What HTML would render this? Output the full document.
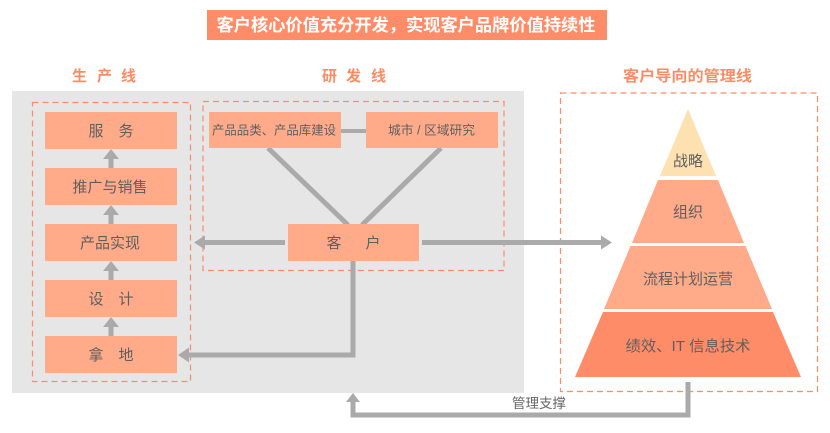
<!DOCTYPE html>
<html><head><meta charset="utf-8"><style>
html,body{margin:0;padding:0;background:#fff;}
svg{display:block;}
text{font-family:"Liberation Sans","Noto Sans CJK SC","WenQuanYi Zen Hei",sans-serif;}
</style></head><body>
<svg width="830" height="433" viewBox="0 0 830 433" xmlns="http://www.w3.org/2000/svg">
<!-- title -->
<rect x="207" y="10" width="400" height="30" fill="#ff8c69"/>
<text x="406" y="31" font-size="17" font-weight="bold" fill="#fff" text-anchor="middle" textLength="379" lengthAdjust="spacingAndGlyphs">客户核心价值充分开发，实现客户品牌价值持续性</text>

<!-- column labels -->
<g fill="#f98d66" font-size="15" font-weight="bold">
<text x="72" y="81">生</text><text x="97" y="81">产</text><text x="121" y="81">线</text>
<text x="322" y="81">研</text><text x="346" y="81">发</text><text x="371" y="81">线</text>
<text x="623" y="81" textLength="129" lengthAdjust="spacingAndGlyphs">客户导向的管理线</text>
</g>

<!-- gray area -->
<rect x="12" y="91" width="512" height="302" fill="#e6e6e6"/>

<!-- dashed boxes -->
<g fill="none" stroke="#ff8c69" stroke-width="1.2" stroke-dasharray="6 4">
<rect x="32.5" y="102.5" width="158" height="279"/>
<rect x="203" y="101.5" width="301" height="169"/>
<rect x="560.5" y="93" width="257" height="298.5"/>
</g>

<!-- connectors -->
<g stroke="#aaaaaa" stroke-width="5" fill="none">
<line x1="268" y1="148" x2="348" y2="225"/>
<line x1="441" y1="148" x2="362" y2="225"/>
<line x1="341" y1="131" x2="366" y2="131" stroke-width="4"/>
<line x1="285" y1="242.5" x2="203" y2="242.5"/>
<line x1="422" y1="242.5" x2="603" y2="242.5"/>
<polyline points="353,261 353,355 187,355"/>
<polyline points="688,382 688,415 353,415 353,401"/>
<line x1="111" y1="157" x2="111" y2="168"/>
<line x1="111" y1="213" x2="111" y2="224"/>
<line x1="111" y1="269" x2="111" y2="280"/>
<line x1="111" y1="325" x2="111" y2="336"/>
</g>
<g fill="#aaaaaa">
<polygon points="194,242.5 205,235.5 205,249.5"/>
<polygon points="612,242.5 601,235.5 601,249.5"/>
<polygon points="178,355 189,347.5 189,362.5"/>
<polygon points="353,393 346,402 360,402"/>
<polygon points="111,149 103,159 119,159"/>
<polygon points="111,205 103,215 119,215"/>
<polygon points="111,261 103,271 119,271"/>
<polygon points="111,317 103,327 119,327"/>
</g>

<!-- left boxes -->
<g fill="#ffab8a">
<rect x="45" y="112" width="132" height="37"/>
<rect x="45" y="168" width="132" height="37"/>
<rect x="45" y="224" width="132" height="37"/>
<rect x="45" y="280" width="132" height="37"/>
<rect x="45" y="336" width="132" height="37"/>
<rect x="209" y="112" width="132" height="36"/>
<rect x="366" y="112" width="132" height="36"/>
<rect x="288" y="224" width="131" height="37"/>
</g>
<g fill="#5f5f5f" font-size="15" text-anchor="middle">
<text x="96" y="136">服</text><text x="126" y="136">务</text>
<text x="110" y="192">推广与销售</text>
<text x="110" y="248">产品实现</text>
<text x="96" y="304">设</text><text x="126" y="304">计</text>
<text x="96" y="360">拿</text><text x="126" y="360">地</text>
<text x="334" y="248">客</text><text x="373" y="248">户</text>
</g>
<g fill="#5f5f5f" font-size="12.5">
<text x="212" y="134.5" textLength="124" lengthAdjust="spacingAndGlyphs">产品品类、产品库建设</text>
<text x="388" y="134.5" textLength="87" lengthAdjust="spacingAndGlyphs">城市 / 区域研究</text>
</g>

<!-- pyramid -->
<polygon points="688,109 716,176 660,176" fill="#fde1b1"/>
<polygon points="658,180 718,180 744,243 632,243" fill="#ffab8a"/>
<polygon points="630.5,246 745.5,246 772,309 604,309" fill="#ffab8a"/>
<polygon points="603,312 773,312 801,377 575,377" fill="#ff8c69"/>
<g fill="#5f5f5f" font-size="15" text-anchor="middle">
<text x="688" y="166">战略</text>
<text x="688" y="217">组织</text>
<text x="688" y="284">流程计划运营</text>
<text x="688" y="351" textLength="125" lengthAdjust="spacingAndGlyphs">绩效、IT 信息技术</text>
</g>
<text x="539" y="408" font-size="13.5" fill="#666" text-anchor="middle">管理支撑</text>
</svg>
</body></html>
